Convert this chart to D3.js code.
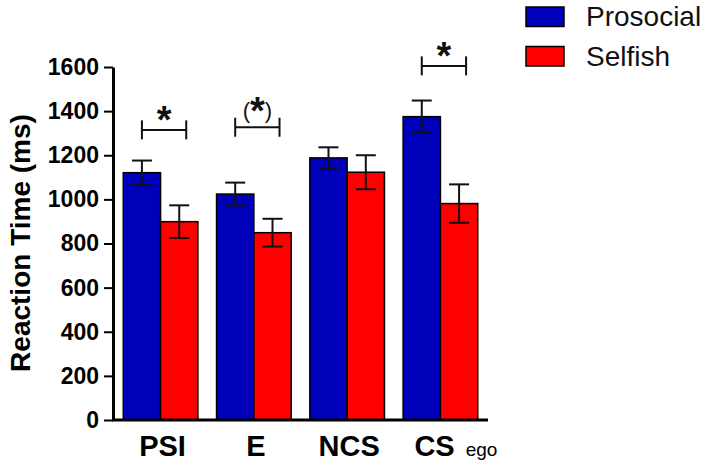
<!DOCTYPE html>
<html><head><meta charset="utf-8">
<script src="https://cdn.jsdelivr.net/npm/d3@7"></script>
<style>body{margin:0;background:#fff}svg{display:block}text{font-family:"Liberation Sans",Arial,sans-serif}</style>
</head><body><svg id="c" width="708" height="466"></svg>
<script>
const categories = ["PSI","E","NCS","CS"];
const series = ["Prosocial","Selfish"];
const prosocial = [1121, 1024, 1188, 1375];
const prosocialErr = [55, 52, 48, 73];
const selfish = [899, 849, 1123, 981];
const selfishErr = [74, 63, 77, 87];
const yTicks = [0,200,400,600,800,1000,1200,1400,1600];
const brackets = [{cat:"PSI", y:1315, label:"*"}, {cat:"E", y:1327, label:"(*)"}, {cat:"CS", y:1605, label:"*"}];
const colors = {Prosocial:"#0000BB", Selfish:"#FF0000"};

const svg = d3.select("#c");
const x0 = 113, x1 = 488, yb = 420, yt = 67;
const x = d3.scaleBand().domain(categories).range([x0,x1]).paddingInner(0.2).paddingOuter(0.11);
const xs = d3.scaleBand().domain(series).range([0, x.bandwidth()]);
const y = d3.scaleLinear().domain([0,1600]).range([yb,yt]);

const data = [];
categories.forEach((c,i)=>{
  data.push({cat:c, s:"Prosocial", v:prosocial[i], e:prosocialErr[i]});
  data.push({cat:c, s:"Selfish", v:selfish[i], e:selfishErr[i]});
});

svg.append("g").selectAll("rect").data(data).join("rect")
  .attr("x", d=>x(d.cat)+xs(d.s)).attr("width", xs.bandwidth())
  .attr("y", d=>y(d.v)).attr("height", d=>y(0)-y(d.v))
  .attr("fill", d=>colors[d.s]).attr("stroke","#000").attr("stroke-width",1.5);

const eb = svg.append("g").attr("stroke","#111").attr("stroke-width",2);
data.forEach(d=>{
  const cx = x(d.cat)+xs(d.s)+xs.bandwidth()/2;
  eb.append("line").attr("x1",cx).attr("x2",cx).attr("y1",y(d.v+d.e)).attr("y2",y(d.v-d.e));
  [d.v+d.e, d.v-d.e].forEach(v=>eb.append("line").attr("x1",cx-10).attr("x2",cx+10).attr("y1",y(v)).attr("y2",y(v)));
});

// axes
const ya = svg.append("g").attr("transform",`translate(${x0},0)`)
  .call(d3.axisLeft(y).tickValues(yTicks).tickFormat(d3.format("d")).tickSize(9).tickPadding(5).tickSizeOuter(0));
ya.select(".domain").attr("stroke","#000").attr("stroke-width",3);
ya.selectAll(".tick line").attr("stroke","#000").attr("stroke-width",2);
ya.selectAll(".tick text").attr("font-size",23).attr("font-weight","bold").attr("fill","#000")
  .attr("font-family","'Liberation Sans',Arial,sans-serif");

svg.append("line").attr("x1",x0-1).attr("x2",x1).attr("y1",yb).attr("y2",yb).attr("stroke","#000").attr("stroke-width",3);

// x labels
categories.forEach(c=>{
  const cx = x(c)+x.bandwidth()/2;
  const t = svg.append("text").attr("y",456).attr("font-weight","bold").attr("font-size",29).attr("fill","#000");
  if(c==="CS"){
    t.attr("x", cx-26);
    t.append("tspan").text(c);
    t.append("tspan").attr("font-weight","normal").attr("font-size",19).attr("dx",11).text("ego");
  } else {
    t.attr("text-anchor","middle").attr("x", cx+2).text(c);
  }
});

// y title
svg.append("text").attr("transform","translate(30,243) rotate(-90)").attr("text-anchor","middle")
  .attr("font-size",28).attr("font-weight","bold").attr("fill","#000").text("Reaction Time (ms)");

// brackets
const bg = svg.append("g").attr("stroke","#111").attr("stroke-width",2);
brackets.forEach(b=>{
  const l = x(b.cat)+xs("Prosocial")+xs.bandwidth()/2;
  const r = x(b.cat)+xs("Selfish")+xs.bandwidth()/2 + 7;
  const yy = y(b.y);
  bg.append("line").attr("x1",l).attr("x2",r).attr("y1",yy).attr("y2",yy);
  bg.append("line").attr("x1",l).attr("x2",l).attr("y1",yy-9.5).attr("y2",yy+9.5);
  bg.append("line").attr("x1",r).attr("x2",r).attr("y1",yy-9.5).attr("y2",yy+9.5);
  const t = svg.append("text").attr("x",(l+r)/2).attr("text-anchor","middle").attr("fill","#111");
  if(b.label==="*"){
    t.attr("y",yy+3).attr("font-size",38).attr("font-weight","bold").text("*");
  } else {
    t.attr("y",yy-9);
    t.append("tspan").attr("font-size",22).text("(");
    t.append("tspan").attr("font-size",38).attr("font-weight","bold").attr("dy",6).text("*");
    t.append("tspan").attr("font-size",22).attr("dy",-6).text(")");
  }
});

// legend
series.forEach((s,i)=>{
  const yy = 7 + i*39.5;
  svg.append("rect").attr("x",526).attr("y",yy).attr("width",38).attr("height",19.5)
    .attr("fill",colors[s]).attr("stroke","#000").attr("stroke-width",1.5);
  svg.append("text").attr("x",586).attr("y",yy+19).attr("font-size",28).attr("fill","#111").text(s);
});
</script></body></html>
